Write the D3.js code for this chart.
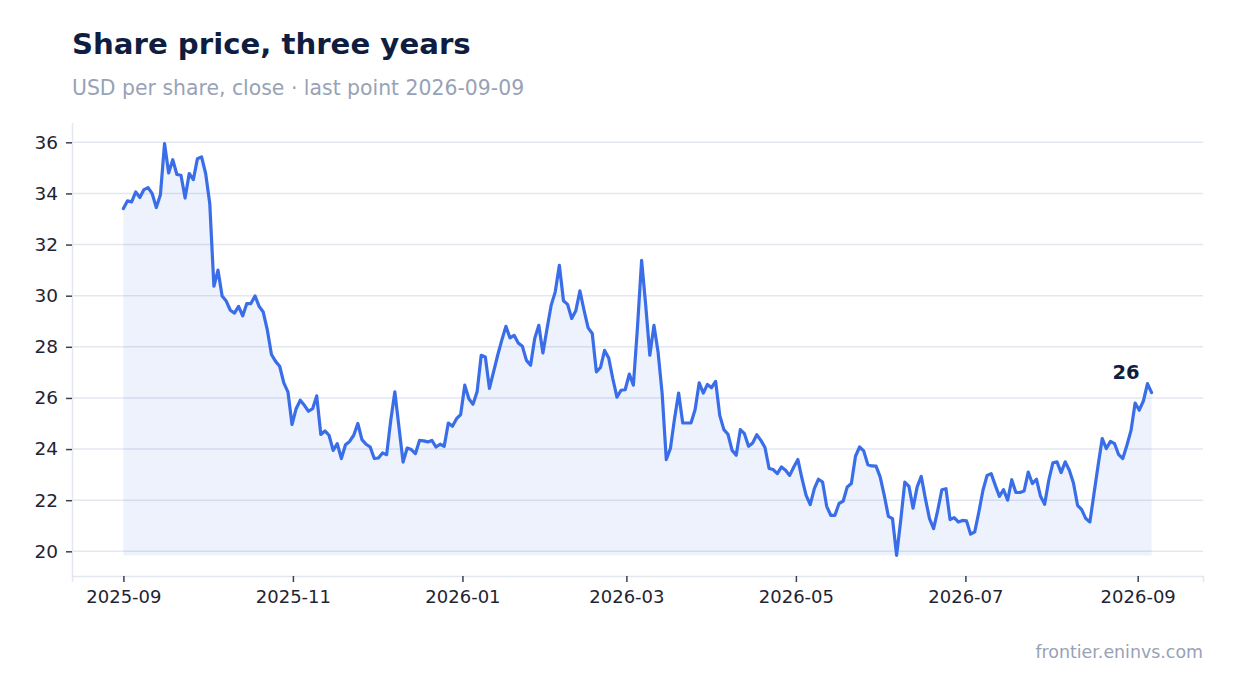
<!DOCTYPE html>
<html>
<head>
<meta charset="utf-8">
<script src="https://cdn.jsdelivr.net/npm/d3@7"></script>
<style>
  html, body { margin: 0; padding: 0; background: #ffffff; }
  body { font-family: "DejaVu Sans", sans-serif; }
</style>
</head>
<body>
<svg id="chart" width="1234" height="693"></svg>
<script>
// ---- data ----
const titleText = "Share price, three years";
const subtitleText = "USD per share, close · last point 2026-09-09";
const sourceText = "frontier.eninvs.com";
const startDate = "2025-09-01";
const endDate = "2026-09-06";
const prices = [
  33.41, 33.71, 33.67, 34.06, 33.84, 34.15, 34.23, 33.99, 33.45, 33.95,
  35.95, 34.80, 35.32, 34.74, 34.71, 33.82, 34.78, 34.54, 35.36, 35.43,
  34.78, 33.60, 30.37, 31.00, 29.99, 29.79, 29.43, 29.32, 29.58, 29.21,
  29.69, 29.69, 29.99, 29.58, 29.36, 28.65,
  27.70, 27.43, 27.24, 26.59, 26.24, 24.96, 25.58, 25.91, 25.71, 25.48,
  25.58, 26.08, 24.57, 24.71, 24.54, 23.95, 24.21, 23.63, 24.17, 24.30,
  24.54, 25.00, 24.37, 24.19, 24.08, 23.63, 23.65, 23.85, 23.78, 25.12,
  26.24, 24.86, 23.49, 24.04,
  23.98, 23.82, 24.34, 24.32, 24.28, 24.34, 24.08, 24.19, 24.11, 25.02,
  24.89, 25.19, 25.35, 26.50, 25.97, 25.75, 26.24, 27.67, 27.60, 26.37,
  27.02, 27.67, 28.26, 28.80, 28.35, 28.45, 28.15, 28.02, 27.47, 27.28,
  28.32, 28.84, 27.76, 28.71, 29.62,
  30.15, 31.19, 29.80, 29.66, 29.11, 29.41, 30.19, 29.43, 28.74, 28.52,
  27.02, 27.19, 27.86, 27.56, 26.75, 26.03, 26.30, 26.32, 26.93, 26.50,
  28.78, 31.38, 29.62, 27.67, 28.84, 27.80, 26.16, 23.59, 24.02, 25.19,
  26.19, 25.02, 25.02, 25.02, 25.54, 26.59,
  26.19, 26.53, 26.40, 26.65, 25.32, 24.76, 24.58, 23.95, 23.76, 24.76,
  24.60, 24.11, 24.24, 24.56, 24.34, 24.06, 23.24, 23.20, 23.04, 23.30,
  23.17, 22.97, 23.30, 23.59, 22.84, 22.19, 21.83, 22.45, 22.82, 22.71,
  21.76, 21.41, 21.41, 21.87, 21.96,
  22.52, 22.65, 23.72, 24.08, 23.93, 23.39, 23.34, 23.33, 22.91, 22.19,
  21.37, 21.28, 19.84, 21.21, 22.71, 22.54, 21.69, 22.52, 22.93, 22.06,
  21.28, 20.89, 21.60, 22.41, 22.45, 21.24, 21.32, 21.15, 21.21, 21.19,
  20.67, 20.76, 21.54, 22.39, 22.97,
  23.04, 22.58, 22.15, 22.41, 22.00, 22.80, 22.30, 22.30, 22.36, 23.10,
  22.65, 22.82, 22.15, 21.84, 22.78, 23.46, 23.50, 23.08, 23.50, 23.17,
  22.67, 21.80, 21.63, 21.28, 21.15, 22.26, 23.37, 24.41, 24.02, 24.30,
  24.21, 23.78, 23.63, 24.15, 24.73, 25.80, 25.52, 25.88, 26.56, 26.21
];
const yTicks = [20, 22, 24, 26, 28, 30, 32, 34, 36];

// ---- build ----
const parse = d3.utcParse("%Y-%m-%d");
const t0 = parse(startDate).getTime();
const t1 = parse(endDate).getTime();
const N = prices.length;
const data = prices.map((v, i) => ({ date: new Date(t0 + i * (t1 - t0) / (N - 1)), value: v }));

const svg = d3.select("#chart");
const plot = { left: 72, right: 1203, top: 123, bottom: 576 };

const xExt = d3.extent(data, d => d.date);
const xPad = (xExt[1] - xExt[0]) * 0.05;
const x = d3.scaleUtc()
  .domain([new Date(+xExt[0] - xPad), new Date(+xExt[1] + xPad)])
  .range([plot.left, plot.right]);

const yMin = d3.min(prices), yMax = d3.max(prices);
const yPad = (yMax - yMin) * 0.05;
const y = d3.scaleLinear()
  .domain([yMin - yPad, yMax + yPad])
  .range([plot.bottom, plot.top]);

// grid
svg.append("g")
  .selectAll("line")
  .data(yTicks)
  .join("line")
  .attr("x1", plot.left).attr("x2", plot.right)
  .attr("y1", d => y(d)).attr("y2", d => y(d))
  .attr("stroke", "#e3e7ef")
  .attr("stroke-width", 1.5);

// area
const area = d3.area()
  .x(d => x(d.date))
  .y0(y(yMin))
  .y1(d => y(d.value));
svg.append("path")
  .datum(data)
  .attr("d", area)
  .attr("fill", "#3a6ee8")
  .attr("fill-opacity", 0.09);

// line
const line = d3.line()
  .x(d => x(d.date))
  .y(d => y(d.value));
svg.append("path")
  .datum(data)
  .attr("d", line)
  .attr("fill", "none")
  .attr("stroke", "#3a6ee8")
  .attr("stroke-width", 3.2)
  .attr("stroke-linejoin", "round")
  .attr("stroke-linecap", "round");

// axes
const xAxis = d3.axisBottom(x)
  .ticks(d3.utcMonth.every(2))
  .tickFormat(d3.utcFormat("%Y-%m"))
  .tickSize(6)
  .tickPadding(8);
const gx = svg.append("g")
  .attr("transform", `translate(0,${plot.bottom})`)
  .call(xAxis);
gx.select(".domain").attr("stroke", "#e3e7ef").attr("stroke-width", 1.5);
gx.selectAll(".tick line").attr("stroke", "#3b3f4a").attr("stroke-width", 1.5);
gx.selectAll(".tick text")
  .attr("fill", "#1f2433")
  .style("font-family", "DejaVu Sans, sans-serif")
  .style("font-size", "18px");

const yAxis = d3.axisLeft(y)
  .tickValues(yTicks)
  .tickSize(6)
  .tickPadding(8);
const gy = svg.append("g")
  .attr("transform", `translate(${plot.left},0)`)
  .call(yAxis);
gy.select(".domain").attr("stroke", "#e3e7ef").attr("stroke-width", 1.5)
  .attr("d", `M0.5,${plot.top}V${plot.bottom}`);
gy.selectAll(".tick line").attr("stroke", "#3b3f4a").attr("stroke-width", 1.5);
gy.selectAll(".tick text")
  .attr("fill", "#1f2433")
  .style("font-family", "DejaVu Sans, sans-serif")
  .style("font-size", "18.5px");

// last value label
const last = data[data.length - 1];
svg.append("text")
  .attr("x", x(last.date) - 12)
  .attr("y", y(last.value) - 14)
  .attr("text-anchor", "end")
  .attr("fill", "#0f1d40")
  .style("font-family", "DejaVu Sans, sans-serif")
  .style("font-weight", "bold")
  .style("font-size", "19.5px")
  .text(d3.format(".0f")(last.value));

// titles
svg.append("text")
  .attr("x", 72).attr("y", 54)
  .attr("fill", "#0f1d40")
  .style("font-family", "DejaVu Sans, sans-serif")
  .style("font-weight", "bold")
  .style("font-size", "29.2px")
  .text(titleText);
svg.append("text")
  .attr("x", 72).attr("y", 95)
  .attr("fill", "#98a2b6")
  .style("font-family", "DejaVu Sans, sans-serif")
  .style("font-size", "20.4px")
  .text(subtitleText);
svg.append("text")
  .attr("x", 1203).attr("y", 658)
  .attr("text-anchor", "end")
  .attr("fill", "#98a2b6")
  .style("font-family", "DejaVu Sans, sans-serif")
  .style("font-size", "17.4px")
  .text(sourceText);
</script>
</body>
</html>
